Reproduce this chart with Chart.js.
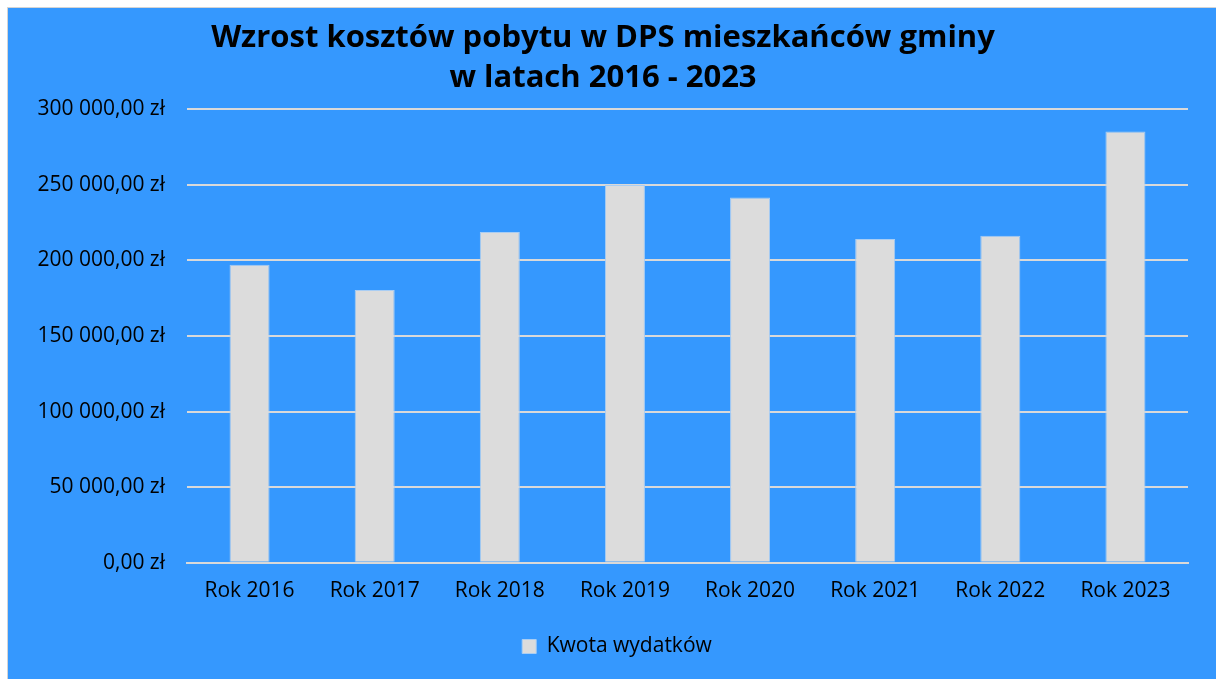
<!DOCTYPE html>
<html>
<head>
<meta charset="utf-8">
<script src="https://cdn.jsdelivr.net/npm/chart.js@4/dist/chart.umd.min.js"></script>
<style>
  html, body { margin: 0; padding: 0; background: #ffffff; }
  #ramka {
    position: absolute; left: 7px; top: 7px;
    width: 1208px; height: 671px;
    border-left: 1px solid #d4d4d4; border-top: 1px solid #d4d4d4;
    background: #3598fe;
  }
</style>
</head>
<body>
<div id="ramka"><canvas id="micanvas" width="1208" height="671"></canvas></div>
<script>
let etiquetas = ["Rok 2016", "Rok 2017", "Rok 2018", "Rok 2019", "Rok 2020", "Rok 2021", "Rok 2022", "Rok 2023"]
let kwoty = [197000, 180300, 218600, 249800, 241500, 214000, 216200, 285100]
let tytul = ["Wzrost kosztów pobytu w DPS mieszkańców gminy", "w latach 2016 - 2023"]
let nazwaSerii = "Kwota wydatków"

function zlote(v) {
  let s = Math.round(v).toString().replace(/\B(?=(\d{3})+(?!\d))/g, " ")
  return s + ",00 zł"
}

// legenda w oryginale stoi troche na prawo od srodka
let przesunLegende = {
  id: 'przesunLegende',
  afterLayout: function (chart) {
    chart.legend.left += 14
    chart.legend.right += 14
  }
}

let czcionka = "'Open Sans', 'Noto Sans', sans-serif"
let contexto = document.getElementById('micanvas').getContext('2d')
let opciones = {
  type: "bar",
  data: {
    labels: etiquetas,
    datasets: [{
      label: nazwaSerii,
      backgroundColor: '#dcdcdc',
      borderColor: '#a9cdf3',
      borderWidth: 1,
      data: kwoty,
      barPercentage: 0.32,
      categoryPercentage: 1.0
    }]
  },
  options: {
    responsive: false,
    animation: false,
    layout: { padding: { left: 10, right: 28, top: 10, bottom: 12 } },
    plugins: {
      title: {
        display: true,
        text: tytul,
        color: '#000000',
        font: { family: czcionka, size: 31, weight: 'bold', lineHeight: 1.29 },
        padding: { top: 0, bottom: 11 }
      },
      legend: {
        position: 'bottom',
        labels: {
          color: '#000000',
          font: { family: czcionka, size: 21 },
          boxWidth: 14, boxHeight: 14,
          padding: 16
        }
      },
      tooltip: { enabled: false }
    },
    scales: {
      x: {
        grid: { display: false, drawTicks: false },
        border: { color: '#d9d9d9', width: 2 },
        ticks: { color: '#000000', font: { family: czcionka, size: 21 }, padding: 16 }
      },
      y: {
        min: 0, max: 300000,
        afterFit: function (s) { s.width = 169 },
        grid: { color: '#d9d9d9', lineWidth: 2, drawTicks: false },
        border: { display: false },
        ticks: {
          stepSize: 50000,
          color: '#000000',
          font: { family: czcionka, size: 21 },
          padding: 22,
          callback: function (v) { return zlote(v) }
        }
      }
    }
  },
  plugins: [przesunLegende]
}

let grafica = new Chart(contexto, opciones)
</script>
</body>
</html>
